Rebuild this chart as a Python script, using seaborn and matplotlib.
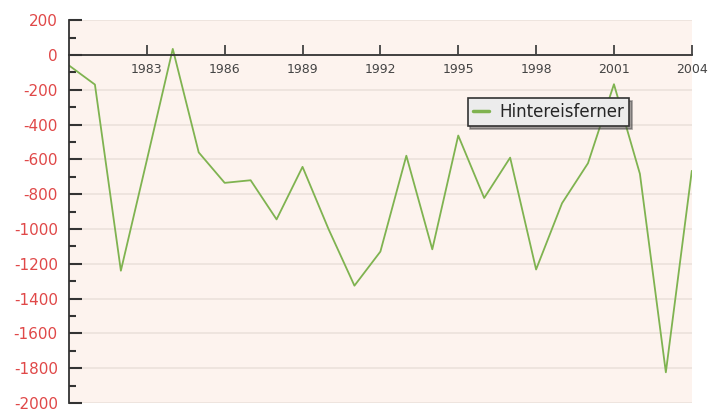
import matplotlib
matplotlib.use('Agg')
import matplotlib.pyplot as plt
import seaborn as sns
import pandas as pd
from matplotlib.ticker import MultipleLocator

years = list(range(1980, 2005))
balance = [-60, -170, -1240, -605, 35, -560, -735, -720, -945, -643,
           -1000, -1326, -1130, -579, -1117, -463, -822, -590, -1233, -852,
           -622, -168, -683, -1824, -666]
xtick_years = [1983, 1986, 1989, 1992, 1995, 1998, 2001, 2004]

df = pd.DataFrame({'year': years, 'Hintereisferner': balance})

sns.set_style('white')
plt.rcParams['axes.unicode_minus'] = False
fig = plt.figure(figsize=(7.11, 4.12), dpi=100)
ax = fig.add_axes([0.097, 0.022, 0.876, 0.929])
ax.set_facecolor('#fdf3ee')

sns.lineplot(data=df, x='year', y='Hintereisferner', ax=ax, color='#7fb350',
             linewidth=1.3, label='Hintereisferner')

ax.set_xlim(1980, 2004)
ax.set_ylim(-2000, 200)
ax.set_xlabel('')
ax.set_ylabel('')

# horizontal grid
ax.yaxis.set_major_locator(MultipleLocator(200))
ax.yaxis.set_minor_locator(MultipleLocator(100))
ax.grid(axis='y', which='major', color='#ebe1db', linewidth=1.2)
ax.set_axisbelow(True)

# x axis sits on the zero line
ax.spines['bottom'].set_position(('data', 0))
ax.spines['top'].set_visible(False)
ax.spines['right'].set_visible(False)
for s in ['left', 'bottom']:
    ax.spines[s].set_color('#333333')
    ax.spines[s].set_linewidth(1.3)

ax.set_xticks(xtick_years)
ax.set_xticklabels([str(y) for y in xtick_years])
ax.tick_params(axis='x', bottom=True, direction='in', length=7, width=1.2,
               color='#333333', labelsize=9, labelcolor='#444444', pad=6)
ax.tick_params(axis='y', which='major', left=True, direction='in', length=9,
               width=1.5, color='#333333', labelsize=11, labelcolor='#e04848', pad=8)
ax.tick_params(axis='y', which='minor', left=True, direction='in', length=5,
               width=1.5, color='#333333')

leg = ax.legend(loc='upper left', bbox_to_anchor=(0.640, 0.796), frameon=True,
                fancybox=False, shadow=True, fontsize=12, handlelength=1.0,
                borderpad=0.3, handletextpad=0.6, borderaxespad=0)
leg.get_frame().set_facecolor('#ececec')
leg.get_frame().set_edgecolor('#333333')
leg.get_frame().set_linewidth(1.2)
for line in leg.get_lines():
    line.set_linewidth(2.5)

plt.savefig('out.png', dpi=100)
plt.close()
